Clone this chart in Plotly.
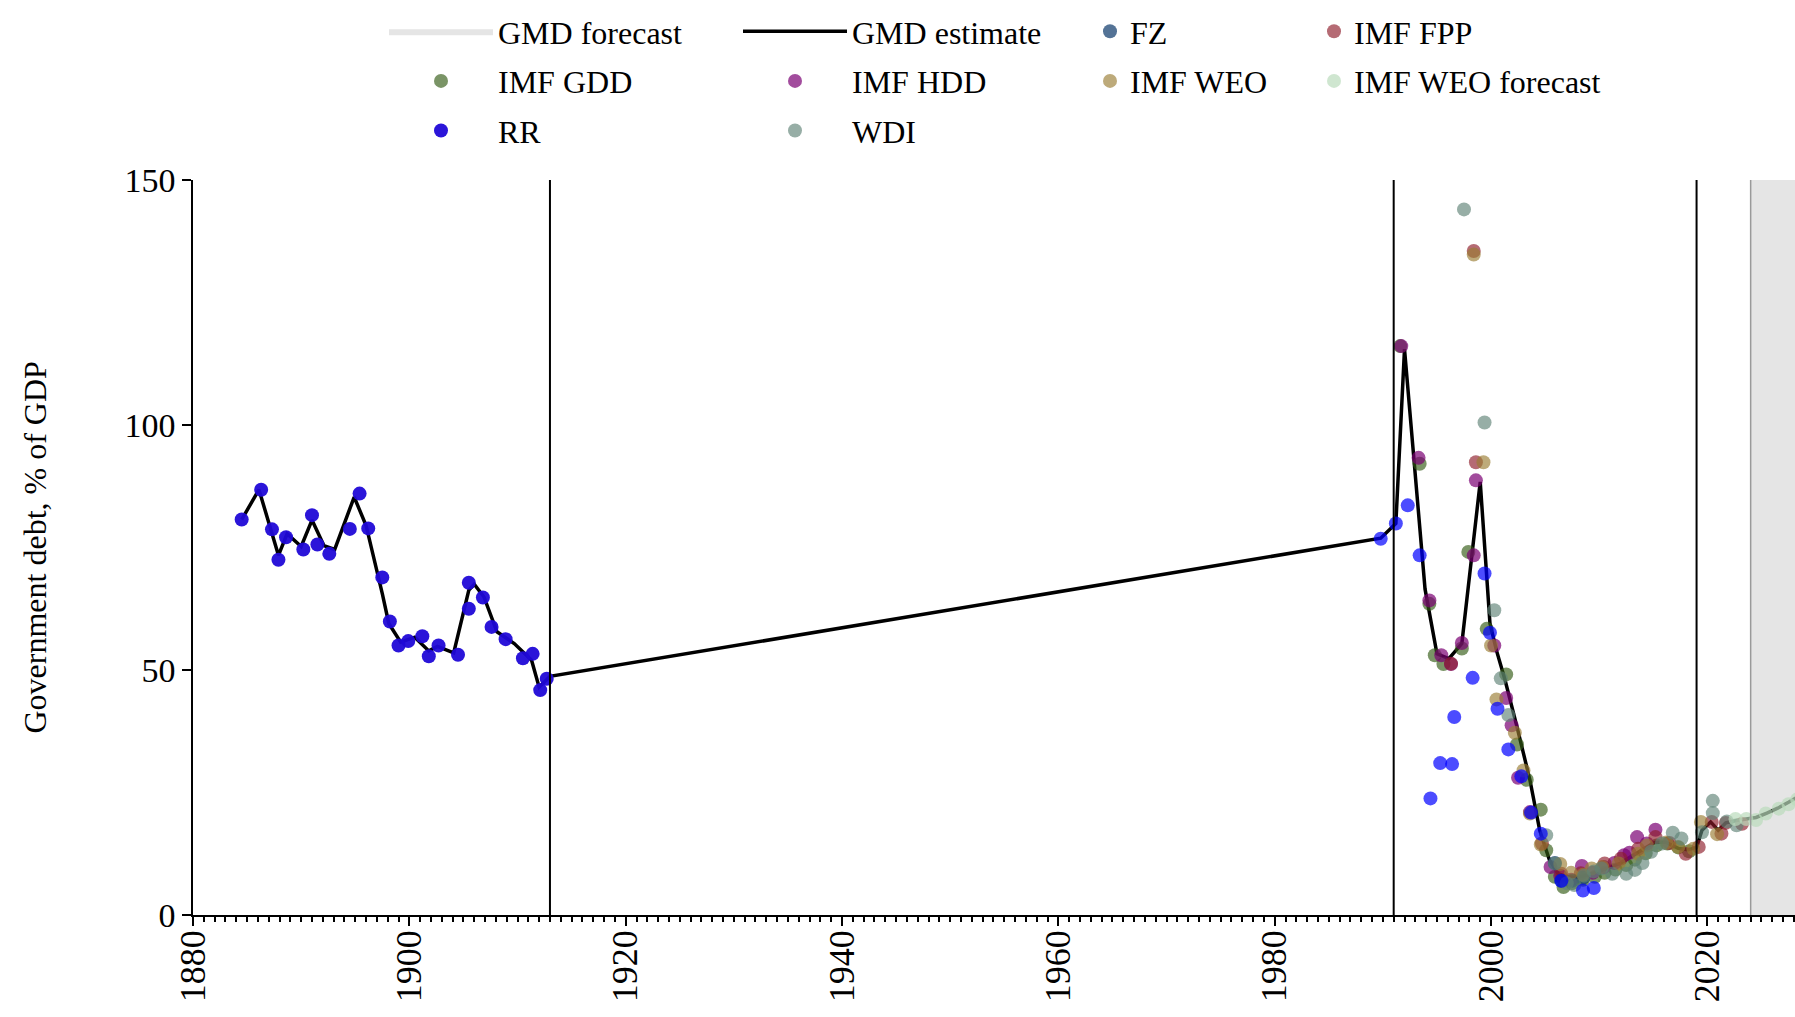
import plotly.graph_objects as go

# ---------------- data ----------------
gmd_years = [1884.5, 1886.1, 1887.9, 1888.7, 1890.0, 1891.0, 1892.1, 1893.1, 1894.9, 1896.0,
             1897.5, 1898.1, 1899.2, 1900.5, 1901.8, 1902.6, 1904.1, 1905.5, 1906.0, 1906.9,
             1908.1, 1909.7, 1911.3, 1912.0, 1913.0,
             1989.8, 1991.2, 1992.0, 1993.9, 1995.0, 1996.1, 1997.3, 1999.0, 1999.9, 2000.5,
             2001.3, 2002.4, 2003.6, 2004.5, 2005.4, 2006.2, 2007.0, 2008.0, 2009.0, 2010.0,
             2011.0, 2012.0, 2013.0, 2014.0, 2015.1, 2016.1, 2017.3, 2018.2, 2019.0, 2019.5,
             2020.3, 2021.0, 2021.7, 2022.7, 2023.6, 2024.5, 2025.5, 2026.5, 2027.5, 2028.5]
gmd_values = [80.7, 86.8, 73.4, 77.8, 75.2, 80.6, 75.4, 74.6, 85.3, 79.5,
              65.6, 59.5, 55.7, 56.7, 53.9, 54.8, 53.5, 66.3, 67.5, 64.9,
              57.8, 55.4, 52.0, 46.5, 48.7,
              76.9, 79.9, 115.5, 66.5, 53.3, 52.3, 55.4, 88.4, 59.5, 54.0,
              47.9, 38.4, 27.5, 17.3, 11.2, 8.4, 7.8, 7.6, 8.2, 8.9,
              9.7, 10.6, 12.0, 13.4, 14.8, 14.9, 13.6, 13.3, 13.8, 17.3,
              19.0, 17.3, 18.8, 19.3, 19.6, 19.9, 20.8, 21.8, 23.0, 24.3]

rr_years = [1884.5, 1886.3, 1887.3, 1887.9, 1888.6, 1890.2, 1891.0, 1891.5, 1892.6, 1894.5,
            1895.4, 1896.2, 1897.5, 1898.2, 1899.0, 1899.9, 1901.2, 1901.8, 1902.7, 1904.5,
            1905.5, 1905.5, 1906.8, 1907.6, 1908.9, 1910.5, 1911.4, 1912.1, 1912.7,
            1989.8, 1991.2, 1992.3, 1993.4, 1994.4, 1995.3, 1996.4, 1996.6, 1998.3, 1999.4,
            1999.9, 2000.6, 2001.6, 2002.8, 2003.7, 2004.6, 2006.5, 2008.5, 2009.5]
rr_values = [80.7, 86.8, 78.7, 72.5, 77.1, 74.6, 81.6, 75.6, 73.7, 78.8,
             86.0, 78.9, 68.9, 59.9, 55.0, 55.9, 56.9, 52.8, 55.0, 53.1,
             62.5, 67.8, 64.8, 58.8, 56.3, 52.4, 53.3, 45.9, 48.2,
             76.8, 79.9, 83.6, 73.4, 23.8, 31.0, 30.8, 40.4, 48.4, 69.7,
             57.6, 42.1, 33.8, 28.3, 20.9, 16.6, 7.0, 5.0, 5.5]

gdd_years = [1991.6, 1993.4, 1994.3, 1994.8, 1995.6, 1997.3, 1997.9, 1999.6, 2001.4, 2002.4,
             2003.3, 2004.6, 2005.1, 2005.9, 2006.7, 2007.5, 2008.5, 2009.6, 2010.5, 2011.5,
             2012.5, 2013.3, 2014.3, 2015.3, 2016.3, 2017.3, 2018.3]
gdd_values = [116.1, 92.1, 63.5, 53.0, 51.2, 54.4, 74.1, 58.4, 49.1, 34.8,
              27.6, 21.5, 13.2, 7.8, 5.7, 6.5, 7.2, 7.8, 8.6, 9.3,
              10.2, 11.3, 12.6, 14.2, 14.6, 13.8, 13.0]

hdd_years = [1991.7, 1993.3, 1994.3, 1995.4, 1996.3, 1997.3, 1998.4, 1998.6, 2000.3, 2001.4,
             2001.9, 2002.5, 2003.6, 2005.5, 2006.4, 2007.4, 2008.4, 2009.4, 2010.4, 2011.4,
             2012.3, 2012.8, 2013.5, 2014.4, 2015.2]
hdd_values = [116.1, 93.3, 64.2, 53.0, 51.2, 55.5, 73.4, 88.7, 55.0, 44.3,
              38.7, 28.0, 21.0, 9.8, 8.0, 7.2, 10.0, 8.6, 9.8, 10.6,
              12.2, 12.7, 15.9, 14.6, 17.4]

fpp_years = [1996.3, 1998.4, 1998.6, 2004.7, 2006.5, 2008.3, 2010.5, 2012.0, 2013.6, 2015.2,
             2016.5, 2018.0, 2019.2, 2020.4, 2021.3, 2021.7, 2023.2]
fpp_values = [51.3, 135.5, 92.4, 14.6, 8.4, 8.5, 10.5, 11.5, 13.5, 15.9,
              14.7, 12.5, 13.9, 19.0, 16.6, 18.8, 18.6]

weo_years = [1998.4, 1999.3, 2000.0, 2000.5, 2002.2, 2003.0, 2003.6, 2004.6, 2006.4, 2007.4,
             2008.5, 2009.3, 2010.3, 2011.8, 2013.6, 2014.4, 2016.2, 2017.3, 2018.7, 2019.4,
             2020.9]
weo_values = [134.8, 92.4, 55.0, 44.0, 37.2, 29.5, 20.7, 14.4, 10.4, 8.6,
              8.2, 9.5, 9.8, 10.5, 12.5, 14.2, 14.8, 13.9, 13.5, 19.0,
              16.5]

fz_years = [2005.9, 2006.5, 2007.5, 2008.5]
fz_values = [10.6, 7.0, 7.0, 7.6]

wdi_years = [1997.5, 1999.4, 2000.3, 2000.9, 2001.6, 2005.1, 2005.9, 2007.0, 2007.7, 2008.6,
             2009.5, 2010.2, 2011.2, 2012.5, 2013.3, 2014.0, 2014.8, 2015.8, 2016.8, 2017.6,
             2019.5, 2020.5, 2020.5, 2021.8, 2022.7]
wdi_values = [144.0, 100.5, 62.2, 48.3, 40.8, 16.3, 10.5, 6.5, 6.1, 8.0,
              8.9, 9.5, 8.4, 8.4, 9.2, 10.6, 12.9, 14.6, 16.8, 15.6,
              16.9, 20.8, 23.3, 19.1, 18.3]

weof_years = [2022.6, 2023.6, 2024.5, 2025.4, 2026.6, 2027.5, 2028.3]
weof_values = [19.6, 19.6, 19.4, 20.7, 21.7, 22.6, 23.6]

break_years = [1913, 1991, 2019]
forecast_span = [2024, 2031]
y_span = [0, 150]
x_range = [1880, 2028.1]
y_ticks = [0, 50, 100, 150]
y_title = "Government debt, % of GDP"

# ---------------- styling ----------------
FONT = "Liberation Serif"
C_RR = "rgba(0,0,255,0.7)"
C_RR_EARLY = "rgba(32,8,215,0.95)"
C_GDD = "rgba(50,90,20,0.65)"
C_HDD = "rgba(122,0,116,0.7)"
C_FPP = "rgba(142,28,42,0.65)"
C_WEO = "rgba(154,125,51,0.65)"
C_FZ = "rgba(12,55,105,0.7)"
C_WDI = "rgba(95,131,119,0.65)"
C_WEOF = "rgba(186,219,188,0.7)"
MS = 14

fig = go.Figure()

# forecast shading
fig.add_trace(go.Scatter(
    x=[forecast_span[0], forecast_span[0], forecast_span[1], forecast_span[1], forecast_span[0]],
    y=[y_span[0], y_span[1], y_span[1], y_span[0], y_span[0]],
    fill="toself", fillcolor="#e5e5e5", mode="lines", line=dict(width=0, color="#e5e5e5"),
    name="GMD forecast", legend="legend", legendgroup="a1", legendrank=1, hoverinfo="skip"))

# GMD estimate line
fig.add_trace(go.Scatter(x=gmd_years, y=gmd_values, mode="lines",
                         line=dict(color="black", width=3.5),
                         name="GMD estimate", legend="legend2", legendgroup="b1", legendrank=1))


def pts(x, y, color, name, legend, group, rank):
    fig.add_trace(go.Scatter(x=x, y=y, mode="markers",
                             marker=dict(color=color, size=MS, line=dict(width=0)),
                             name=name, legend=legend, legendgroup=group, legendrank=rank))


pts(gdd_years, gdd_values, C_GDD, "IMF GDD", "legend", "a2", 2)
pts(hdd_years, hdd_values, C_HDD, "IMF HDD", "legend2", "b2", 2)
pts(fpp_years, fpp_values, C_FPP, "IMF FPP", "legend4", "d1", 1)
pts(fz_years, fz_values, C_FZ, "FZ", "legend3", "c1", 1)
pts(weo_years, weo_values, C_WEO, "IMF WEO", "legend3", "c2", 2)
pts(wdi_years, wdi_values, C_WDI, "WDI", "legend2", "b3", 3)
pts(weof_years, weof_values, C_WEOF, "IMF WEO forecast", "legend4", "d2", 2)
rr_colors = [C_RR_EARLY if yr < break_years[0] + 1 else C_RR for yr in rr_years]
pts(rr_years, rr_values, rr_colors, "RR", "legend", "a3", 3)

shapes = []
for by in break_years:
    shapes.append(dict(type="line", xref="x", yref="y", x0=by, x1=by, y0=y_span[0], y1=y_span[1],
                       line=dict(color="black", width=2), layer="above"))
shapes.append(dict(type="line", xref="x", yref="y", x0=forecast_span[0], x1=forecast_span[0],
                   y0=y_span[0], y1=y_span[1], line=dict(color="#9a9a9a", width=1.5), layer="above"))

W, H = 1795, 1017
ML, MR, MT, MB = 193, 0, 180, 102
PW, PH = W - ML - MR, H - MT - MB

legend_common = dict(xref="container", yref="paper", xanchor="left", yanchor="top",
                     orientation="v", font=dict(family=FONT, size=32, color="black"),
                     bgcolor="rgba(0,0,0,0)", traceorder="grouped", tracegroupgap=5,
                     borderwidth=0)
LY = 1 + (MT - 4) / PH

fig.update_layout(
    width=W, height=H,
    margin=dict(l=ML, r=MR, t=MT, b=MB, autoexpand=False),
    paper_bgcolor="white", plot_bgcolor="white",
    font=dict(family=FONT, color="black"),
    shapes=shapes,
    legend=dict(x=384 / W, y=LY, itemwidth=104, **legend_common),
    legend2=dict(x=738 / W, y=LY, itemwidth=104, **legend_common),
    legend3=dict(x=1090 / W, y=LY, itemwidth=30, **legend_common),
    legend4=dict(x=1314 / W, y=LY, itemwidth=30, **legend_common),
    xaxis=dict(range=x_range, showgrid=False, zeroline=False, showline=True,
               linecolor="black", linewidth=1.5, ticks="outside", ticklen=9, tickwidth=1.5,
               tickcolor="black", tick0=1880, dtick=20, tickangle=-90, ticklabelstandoff=-10,
               tickfont=dict(family=FONT, size=36, color="black"),
               minor=dict(dtick=1, tick0=1880, ticks="outside", ticklen=5, tickwidth=1.5,
                          tickcolor="black", showgrid=False)),
    yaxis=dict(range=y_span, showgrid=False, zeroline=False, showline=True,
               linecolor="black", linewidth=1.5, ticks="outside", ticklen=9, tickwidth=1.5,
               tickcolor="black", tickvals=y_ticks,
               tickfont=dict(family=FONT, size=34, color="black")),
    annotations=[dict(text=y_title, xref="paper", yref="paper", x=(34 - ML) / PW, y=0.5,
                      xanchor="center", yanchor="middle", textangle=-90, showarrow=False,
                      font=dict(family=FONT, size=32, color="black"))],
    showlegend=True,
)

fig.write_html("out.html", config={"responsive": False, "displayModeBar": False},
               post_script="document.body.style.margin='0';document.body.style.overflow='hidden';")
